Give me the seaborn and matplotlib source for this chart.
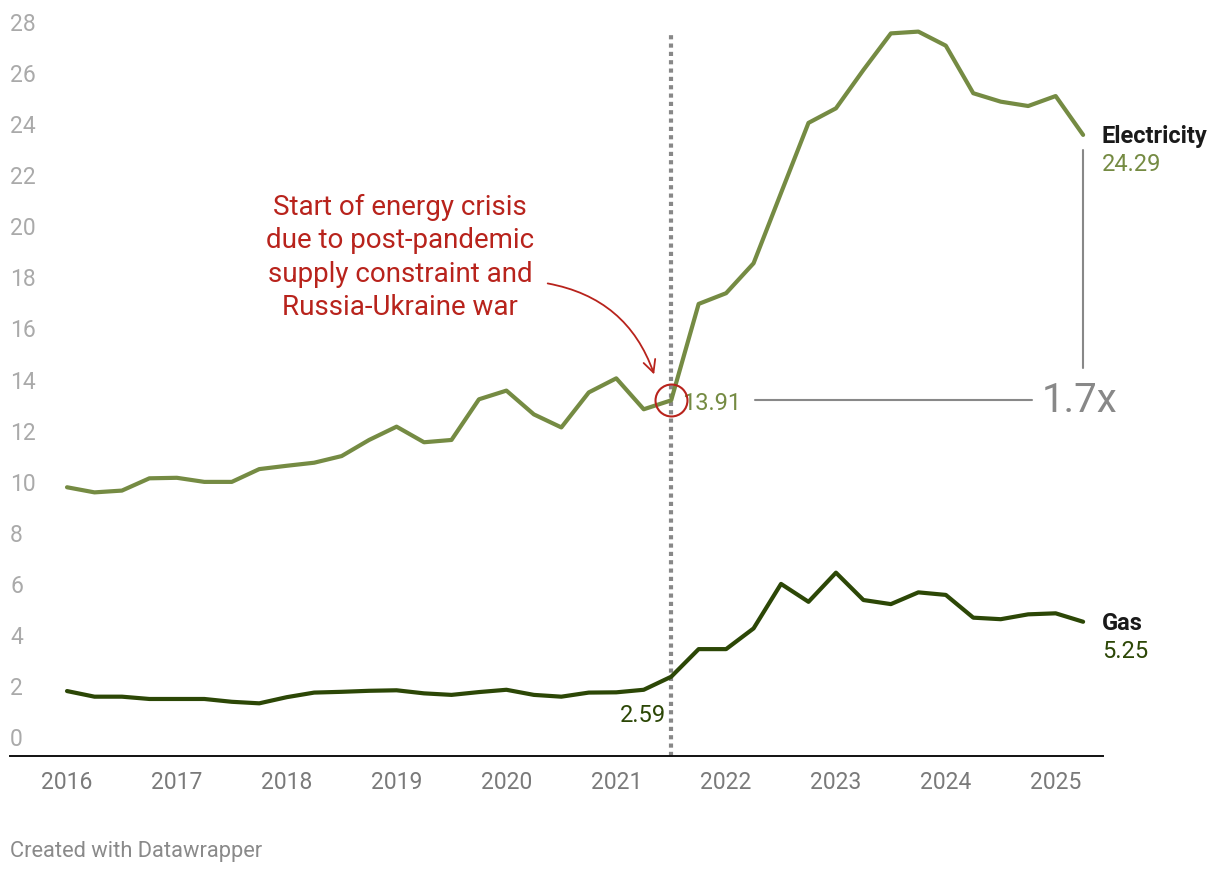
import matplotlib
matplotlib.use('Agg')
import matplotlib.pyplot as plt
import matplotlib.transforms as mtransforms
import seaborn as sns
import pandas as pd
import numpy as np

# ============================================================
# Data (quarterly, 2016 Q1 - 2025 Q2)
# ============================================================
year_ticks = [2016, 2017, 2018, 2019, 2020, 2021, 2022, 2023, 2024, 2025]
quarters = [y + q / 4 for y in range(2016, 2026) for q in range(4)][:38]

electricity = [10.51, 10.31, 10.38, 10.86, 10.88, 10.72, 10.72, 11.22, 11.35, 11.47,
               11.73, 12.36, 12.88, 12.27, 12.36, 13.95, 14.29, 13.36, 12.85, 14.22,
               14.77, 13.56, 13.91, 17.68, 18.10, 19.27, 22.02, 24.76, 25.33, 26.83,
               28.26, 28.33, 27.78, 25.92, 25.59, 25.42, 25.81, 24.29]
gas = [2.54, 2.32, 2.32, 2.23, 2.23, 2.23, 2.12, 2.06, 2.30, 2.48,
       2.51, 2.55, 2.57, 2.45, 2.39, 2.50, 2.59, 2.39, 2.32, 2.48,
       2.49, 2.59, 3.10, 4.18, 4.18, 4.99, 6.73, 6.03, 7.17, 6.10,
       5.94, 6.40, 6.30, 5.41, 5.35, 5.54, 5.58, 5.25]

y_ticks = list(range(0, 30, 2))
crisis_idx = 22  # 2021 Q3
note = "Start of energy crisis\ndue to post-pandemic\nsupply constraint and\nRussia-Ukraine war"

ELEC_COLOR = '#758b43'
GAS_COLOR = '#2c4706'
RED = '#b8231c'
GREY = '#888888'

df = pd.DataFrame({'quarter': quarters, 'Electricity': electricity, 'Gas': gas})
df_long = df.melt(id_vars='quarter', var_name='fuel', value_name='price')

# ============================================================
# Plot
# ============================================================
sns.set_style('white')
plt.rcParams['font.family'] = ['Roboto', 'DejaVu Sans']

fig = plt.figure(figsize=(12.2, 8.74), dpi=100)
ax = fig.add_axes([10 / 1220, 118 / 874, 1093 / 1220, 756 / 874])

sns.lineplot(data=df_long, x='quarter', y='price', hue='fuel',
             palette={'Electricity': ELEC_COLOR, 'Gas': GAS_COLOR},
             linewidth=3, legend=False, ax=ax)

ax.set_xlim(2015.481, 2025.431)
ax.set_ylim(0, 29.566)
ax.set_xlabel('')
ax.set_ylabel('')

for s in ['left', 'right', 'top']:
    ax.spines[s].set_visible(False)
ax.spines['bottom'].set_color('#111111')
ax.spines['bottom'].set_linewidth(1.4)

ax.set_xticks(year_ticks)
ax.set_xticklabels([str(y) for y in year_ticks], fontsize=16.5, color='#7a7a7a')
ax.tick_params(axis='x', length=0, pad=11)
ax.set_yticks([])

# y labels sit above their (invisible) gridlines
ylab_tr = mtransforms.offset_copy(ax.get_yaxis_transform(), fig=fig, x=0, y=9.5, units='dots')
for v in y_ticks:
    ax.text(0, v, str(v), transform=ylab_tr, ha='left', va='baseline',
            fontsize=16.5, color='#aaaaaa')

# crisis marker
cx = quarters[crisis_idx]
ax.plot([cx, cx], [0, 28.3], color=GREY, linewidth=3, linestyle=(0, (1, 1)), zorder=1)
ax.plot(cx, electricity[crisis_idx], marker='o', markersize=23, markerfacecolor='none',
        markeredgecolor=RED, markeredgewidth=1.5, zorder=5)

ax.text(2019.03, 19.5, note, ha='center', va='center', fontsize=20, color=RED,
        linespacing=1.3)
ax.annotate('', xy=(2021.353, 14.82), xytext=(2020.351, 18.5),
            arrowprops=dict(arrowstyle='->', color=RED, lw=1.3,
                            connectionstyle='arc3,rad=-0.3', mutation_scale=22))

# value labels at crisis point
ax.annotate(f'{electricity[crisis_idx]:.2f}', xy=(cx, electricity[crisis_idx]),
            xytext=(8, -7), textcoords='offset points', ha='left', va='baseline',
            fontsize=17, color=ELEC_COLOR)
ax.annotate(f'{gas[crisis_idx - 1]:.2f}', xy=(cx, gas[crisis_idx - 1]),
            xytext=(-4, -23), textcoords='offset points', ha='right', va='baseline',
            fontsize=17, color=GAS_COLOR)

# 1.7x comparison
ratio = electricity[-1] / electricity[crisis_idx]
ax.plot([2022.263, 2024.785], [electricity[crisis_idx]] * 2, color=GREY, linewidth=1.5)
ax.plot([quarters[-1]] * 2, [15.19, 23.7], color=GREY, linewidth=1.5)
ax.text(2024.87, electricity[crisis_idx], f'{ratio:.1f}x', ha='left', va='center',
        fontsize=29, color=GREY)

# end labels
for name, vals, col in [('Electricity', electricity, ELEC_COLOR), ('Gas', gas, GAS_COLOR)]:
    ax.annotate(name, xy=(quarters[-1], vals[-1]), xytext=(13.5, -6),
                textcoords='offset points', ha='left', va='baseline',
                fontsize=17, fontweight='bold', color='#1a1a1a', annotation_clip=False)
    ax.annotate(f'{vals[-1]:.2f}', xy=(quarters[-1], vals[-1]), xytext=(13.5, -26),
                textcoords='offset points', ha='left', va='baseline',
                fontsize=17, color=col, annotation_clip=False)

fig.text(10 / 1220, 1 - 851 / 874, 'Created with Datawrapper', ha='left', va='center',
         fontsize=15.75, color='#8a8a8a')

plt.savefig('out.png', dpi=100)
plt.close()
